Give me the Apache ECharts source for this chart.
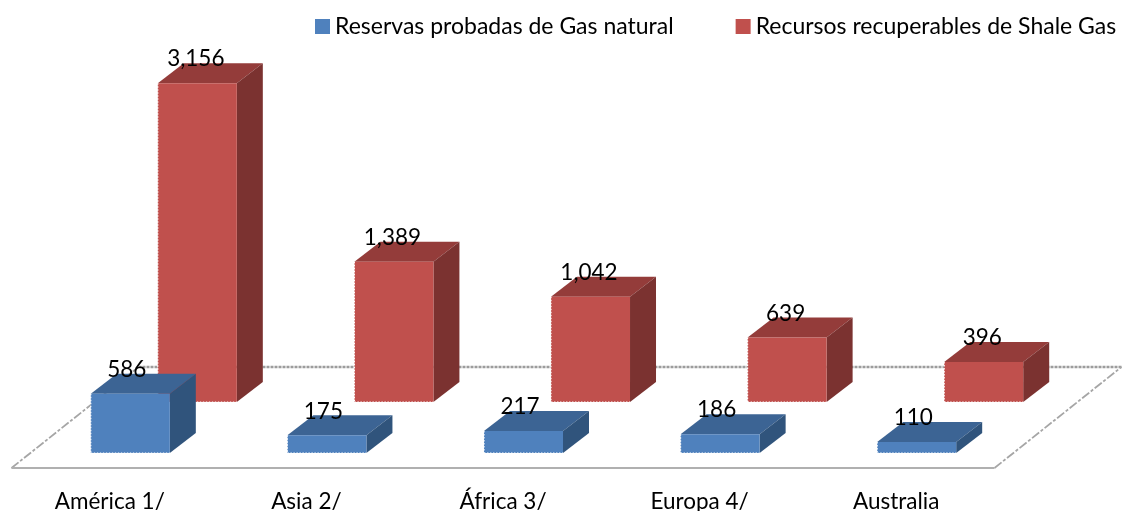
<!DOCTYPE html>
<html><head><meta charset="utf-8">
<style>html,body{margin:0;padding:0;background:#fff}#c{width:1122px;height:511px}</style>
<script src="https://cdn.jsdelivr.net/npm/echarts@6/dist/echarts.min.js"></script>
</head><body><div id="c"></div>
<script>
const categories = ['América 1/', 'Asia 2/', 'África 3/', 'Europa 4/', 'Australia'];
const reservas = [586, 175, 217, 186, 110];
const recursos = [3156, 1389, 1042, 639, 396];
const seriesNames = ['Reservas probadas de Gas natural', 'Recursos recuperables de Shale Gas'];
const FONT = 'Lato';
const DEPTH = [26, -20];
const FLOOR_DEPTH = [127, -101];
const fmt = v => v.toLocaleString('en-US');

function barRenderer(front, top, side, labelDx) {
  return function (params, api) {
    const i = api.value(0), v = api.value(1);
    const t = api.coord([i, v]), b = api.coord([i, 0]);
    const w = api.size([1, 0])[0] * 0.402;
    const l = t[0] - w / 2, r = t[0] + w / 2, dx = DEPTH[0], dy = DEPTH[1];
    const edge = { stroke: '#fff', lineWidth: 1.2, lineDash: [1.5, 1.5] };
    return { type: 'group', children: [
      { type: 'polygon', shape: { points: [[l, t[1]], [r, t[1]], [r + dx, t[1] + dy], [l + dx, t[1] + dy]] }, style: { fill: top } },
      { type: 'polygon', shape: { points: [[r, t[1]], [r + dx, t[1] + dy], [r + dx, b[1] + dy], [r, b[1]]] }, style: { fill: side } },
      { type: 'rect', shape: { x: l, y: t[1], width: w, height: b[1] - t[1] }, style: { fill: front } },
      { type: 'line', shape: { x1: l, y1: b[1], x2: r, y2: b[1] }, style: edge },
      { type: 'line', shape: { x1: l, y1: t[1], x2: l, y2: b[1] }, style: edge },
      { type: 'text', z2: 10, style: { text: fmt(v), x: t[0] + labelDx, y: t[1] - 24, align: 'center', verticalAlign: 'middle',
          font: '22.5px ' + FONT, fill: '#000' } }
    ]};
  };
}
function floorRenderer(params, api) {
  if (params.dataIndex !== 0) return null;
  const c = params.coordSys, y = c.y + c.height, x0 = c.x, x1 = c.x + c.width;
  const dx = FLOOR_DEPTH[0], dy = FLOOR_DEPTH[1];
  const grey = '#a6a6a6';
  const diag = { stroke: grey, lineWidth: 1.8, lineDash: [9, 2, 3, 2] };
  return { type: 'group', children: [
    { type: 'line', shape: { x1: x0 + dx, y1: y + dy, x2: x1 + dx, y2: y + dy }, style: { stroke: '#9c9c9c', lineWidth: 2.4, lineDash: [3, 1] } },
    { type: 'line', shape: { x1: x0, y1: y, x2: x0 + dx, y2: y + dy }, style: diag },
    { type: 'line', shape: { x1: x1, y1: y, x2: x1 + dx, y2: y + dy }, style: diag },
    { type: 'line', shape: { x1: x0, y1: y, x2: x1, y2: y }, style: { stroke: '#b0b0b0', lineWidth: 1.8 } }
  ]};
}
const pairs = a => a.map((v, i) => [i, v]);
const H = 353.5, MAX = 3500;
const grid = (left, base) => ({ left, width: 983, top: base - H, height: H, outerBoundsMode: 'none' });
const hiddenX = i => ({ type: 'category', gridIndex: i, data: categories, show: false });
const yAxis = i => ({ type: 'value', gridIndex: i, min: 0, max: MAX, show: false });

const chart = echarts.init(document.getElementById('c'), null, { renderer: 'canvas' });
chart.setOption({
  animation: false,
  backgroundColor: '#fff',
  legend: { left: 310, top: 10, itemWidth: 15, itemHeight: 15, itemGap: 62, icon: 'rect',
    data: seriesNames,
    textStyle: { fontFamily: FONT, fontSize: 23, color: '#000', padding: [0, 0, 0, 0] } },
  grid: [grid(11.5, 468), grid(32, 453), grid(99, 402)],
  xAxis: [
    { type: 'category', gridIndex: 0, data: categories,
      axisLine: { show: false }, axisTick: { show: false },
      axisLabel: { interval: 0, margin: 22, fontFamily: FONT, fontSize: 22.5, color: '#000' } },
    hiddenX(1), hiddenX(2)
  ],
  yAxis: [yAxis(0), yAxis(1), yAxis(2)],
  series: [
    { type: 'custom', name: 'floor', xAxisIndex: 0, yAxisIndex: 0, z: 1, silent: true,
      renderItem: floorRenderer, data: pairs(recursos), encode: { x: 0, y: 1 } },
    { type: 'custom', name: seriesNames[1], xAxisIndex: 2, yAxisIndex: 2, z: 2,
      itemStyle: { color: '#C0504D' },
      renderItem: barRenderer('#C0504D', '#943C3A', '#7B3230', -1.5), data: pairs(recursos), encode: { x: 0, y: 1 } },
    { type: 'custom', name: seriesNames[0], xAxisIndex: 1, yAxisIndex: 1, z: 3,
      itemStyle: { color: '#4F81BD' },
      renderItem: barRenderer('#4F81BD', '#3C6494', '#30547C', -3.5), data: pairs(reservas), encode: { x: 0, y: 1 } }
  ]
});
</script></body></html>
